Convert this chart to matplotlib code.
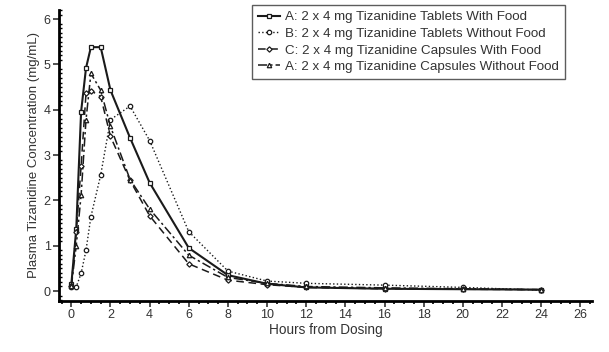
import matplotlib
matplotlib.use("Agg")
import matplotlib.pyplot as plt
from matplotlib.ticker import MultipleLocator

plt.rcParams['font.family'] = ['Liberation Sans', 'DejaVu Sans']

hours = [0, 0.25, 0.5, 0.75, 1, 1.5, 2, 3, 4, 6, 8, 10, 12, 16, 20, 24]
tab_fed = [0.15, 1.36, 3.96, 4.92, 5.38, 5.38, 4.43, 3.38, 2.39, 0.95, 0.35, 0.16, 0.08, 0.05, 0.04, 0.03]
tab_fast = [0.08, 0.09, 0.39, 0.9, 1.64, 2.56, 3.78, 4.08, 3.32, 1.31, 0.44, 0.22, 0.17, 0.13, 0.08, 0.02]
cap_fed = [0.12, 1.3, 2.76, 4.36, 4.42, 4.29, 3.41, 2.44, 1.66, 0.6, 0.24, 0.14, 0.08, 0.05, 0.04, 0.03]
cap_fast = [0.1, 1.0, 2.12, 3.78, 4.8, 4.43, 3.63, 2.46, 1.81, 0.79, 0.3, 0.17, 0.1, 0.07, 0.05, 0.03]

labels = ["A: 2 x 4 mg Tizanidine Tablets With Food",
          "B: 2 x 4 mg Tizanidine Tablets Without Food",
          "C: 2 x 4 mg Tizanidine Capsules With Food",
          "A: 2 x 4 mg Tizanidine Capsules Without Food"]

fig = plt.figure(figsize=(6.09, 3.52), dpi=100)
ax = fig.add_axes([59/609, 1-301/352, (592-59)/609, (301-10)/352])

k = '#1a1a1a'
ms = 3.2
ax.plot(hours, tab_fed, '-', color=k, lw=1.5, marker='s', ms=ms, mfc='white', mec=k, mew=0.9, label=labels[0])
ax.plot(hours, tab_fast, ':', color=k, lw=1.0, marker='o', ms=ms, mfc='white', mec=k, mew=0.9, label=labels[1])
ax.plot(hours, cap_fed, '--', color=k, lw=1.1, marker='D', ms=ms-0.5, mfc='white', mec=k, mew=0.9,
        dashes=(5, 3), label=labels[2])
ax.plot(hours, cap_fast, '-.', color=k, lw=1.1, marker='^', ms=ms, mfc='white', mec=k, mew=0.9,
        dashes=(6, 2, 1.5, 2), label=labels[3])

ax.set_xlim(-0.63, 26.6)
ax.set_ylim(-0.22, 6.2)
ax.spines['top'].set_visible(False)
ax.spines['right'].set_visible(False)
ax.spines['left'].set_linewidth(2)
ax.spines['bottom'].set_linewidth(2)
ax.xaxis.set_major_locator(MultipleLocator(2))
ax.xaxis.set_minor_locator(MultipleLocator(0.5))
ax.yaxis.set_major_locator(MultipleLocator(1))
ax.yaxis.set_minor_locator(MultipleLocator(0.1))
ax.tick_params(axis='both', which='major', direction='out', length=4, width=1.2, labelsize=9, colors='#333333', pad=2)
ax.tick_params(axis='x', which='minor', direction='out', length=2.5, width=1.2)
ax.tick_params(axis='y', which='minor', direction='in', length=2.5, width=1.0)

ax.set_xlabel("Hours from Dosing", fontsize=9.8, color='#333333', labelpad=1)
ax.set_ylabel("Plasma Tizanidine Concentration (mg/mL)", fontsize=9.5, color='#333333', labelpad=3)

leg = ax.legend(loc='upper right', bbox_to_anchor=(565/609, 1-5/352), bbox_transform=fig.transFigure,
                fontsize=9.6, frameon=True, fancybox=False, edgecolor='#333333', handlelength=1.6,
                handletextpad=0.4, borderpad=0.45, labelspacing=0.32, borderaxespad=0)
leg.get_frame().set_linewidth(1.0)
for t in leg.get_texts():
    t.set_color('#333333')

fig.savefig("out.png", dpi=100, facecolor='white')
